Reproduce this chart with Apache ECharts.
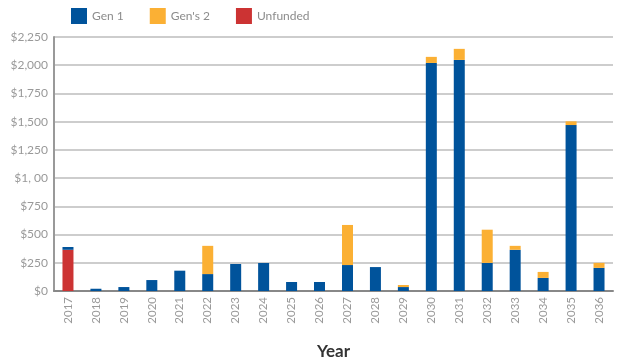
<!DOCTYPE html>
<html>
<head>
<meta charset="utf-8">
<script src="https://cdn.jsdelivr.net/npm/echarts@6/dist/echarts.min.js"></script>
<style>
  html, body { margin: 0; padding: 0; background: #fff; }
  #chart { width: 617px; height: 361px; }
</style>
</head>
<body>
<div id="chart"></div>
<script>
// Funding by year, stacked (thousands of dollars)
const years = ['2017','2018','2019','2020','2021','2022','2023','2024','2025','2026',
               '2027','2028','2029','2030','2031','2032','2033','2034','2035','2036'];
const unfunded = [365, 0, 0, 0, 0, 0, 0, 0, 0, 0, 0, 0, 0, 0, 0, 0, 0, 0, 0, 0];
const gen1 = [25, 20, 35, 97, 180, 150, 239, 248, 80, 80, 230, 212, 35, 2020, 2047, 249, 365, 116, 1470, 205];
const gen2 = [0, 0, 0, 0, 0, 250, 0, 0, 0, 0, 355, 0, 18, 54, 98, 294, 35, 53, 33, 44];
const yTickLabels = ['$0','$250','$500','$750','$1, 00','$1,250','$1,500','$1,750','$2,000','$2,250'];

const FONT = 'Lato, "Open Sans", sans-serif';
const chart = echarts.init(document.getElementById('chart'), null, { renderer: 'canvas' });

chart.setOption({
  animation: false,
  textStyle: { fontFamily: FONT },
  color: ['#cc3333', '#00539b', '#fbb034'],
  legend: {
    data: ['Gen 1', "Gen's 2", 'Unfunded'],
    left: 66, top: 3,
    icon: 'rect', itemWidth: 16, itemHeight: 16, itemGap: 26,
    textStyle: { color: '#8c8c8c', fontSize: 12, fontFamily: FONT }
  },
  grid: { left: 54, right: 4, top: 37, bottom: 70, containLabel: false, outerBoundsMode: 'none' },
  xAxis: {
    type: 'category',
    data: years,
    name: 'Year',
    nameLocation: 'middle',
    nameGap: 52,
    nameTextStyle: { fontSize: 17, fontWeight: 'bold', color: '#333', fontFamily: FONT },
    axisLine: { lineStyle: { color: '#888', width: 2 } },
    axisTick: { show: false },
    axisLabel: { rotate: 90, color: '#999', fontSize: 11.5, margin: 6, fontFamily: FONT }
  },
  yAxis: {
    type: 'value',
    min: 0, max: 2250, interval: 250,
    axisLine: { show: true, lineStyle: { color: '#999', width: 2 } },
    axisTick: { show: false },
    splitLine: { lineStyle: { color: '#bdbdbd', width: 1.5 } },
    axisLabel: {
      color: '#999', fontSize: 12, margin: 6, fontFamily: FONT,
      formatter: function (v) { return yTickLabels[Math.round(v / 250)]; }
    }
  },
  series: [
    { name: 'Unfunded', type: 'bar', stack: 'total', barWidth: 11, data: unfunded },
    { name: 'Gen 1', type: 'bar', stack: 'total', barWidth: 11, data: gen1 },
    { name: "Gen's 2", type: 'bar', stack: 'total', barWidth: 11, data: gen2 }
  ]
});
</script>
</body>
</html>
